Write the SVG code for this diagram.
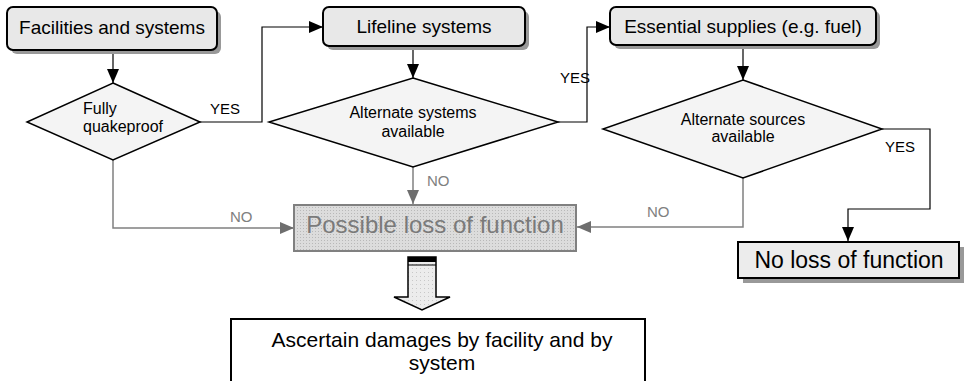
<svg xmlns="http://www.w3.org/2000/svg" width="964" height="381" viewBox="0 0 964 381">
<style>
text{font-family:"Liberation Sans",Arial,sans-serif;fill:#000}
.title{font-size:19px;text-anchor:middle}
.dt{font-size:16px;text-anchor:middle}
.lbl{font-size:15px}
.gl{fill:#808080}
.box{fill:#e8e8e8;stroke:#000;stroke-width:2}
.shadow{fill:#999}
.dia{fill:#f4f4f4;stroke:#000;stroke-width:1.5}
.ln{fill:none;stroke:#000;stroke-width:1.2}
.gln{fill:none;stroke:#808080;stroke-width:1.5}
</style>
<defs>
<marker id="ah" viewBox="0 0 14 12" refX="14" refY="6" markerWidth="14" markerHeight="12" markerUnits="userSpaceOnUse" orient="auto">
<path d="M0,0 L14,6 L0,12 Z" fill="#000"/>
</marker>
<marker id="gah" viewBox="0 0 14 12" refX="14" refY="6" markerWidth="14" markerHeight="12" markerUnits="userSpaceOnUse" orient="auto">
<path d="M0,0 L14,6 L0,12 Z" fill="#6e6e6e"/>
</marker>
<pattern id="dots" width="3" height="3" patternUnits="userSpaceOnUse">
<rect width="3" height="3" fill="#dcdcdc"/>
<rect width="1" height="1" fill="#b8b8b8"/>
</pattern>
<pattern id="dots2" width="4" height="4" patternUnits="userSpaceOnUse">
<rect width="4" height="4" fill="#ececec"/>
<rect width="1" height="1" fill="#c8c8c8"/>
</pattern>
</defs>

<g id="connectors">
<path class="ln" d="M113,50 V83" marker-end="url(#ah)"/>
<path class="ln" d="M200,122 H262 V27 H323" marker-end="url(#ah)"/>
<path class="ln" d="M413,46 V78" marker-end="url(#ah)"/>
<path class="ln" d="M558,122 H587 V27 H610" marker-end="url(#ah)"/>
<path class="ln" d="M743,46 V80" marker-end="url(#ah)"/>
<path class="ln" d="M882,129 H930 V209 H848 V241" marker-end="url(#ah)"/>
<path class="gln" d="M113,160 V228 H294" marker-end="url(#gah)"/>
<path class="gln" d="M413,167 V204" marker-end="url(#gah)"/>
<path class="gln" d="M743,178 V227 H577" marker-end="url(#gah)"/>
<text class="lbl" x="210" y="114">YES</text>
<text class="lbl" x="560" y="83">YES</text>
<text class="lbl" x="885" y="152">YES</text>
<text class="lbl gl" x="230" y="222">NO</text>
<text class="lbl gl" x="427" y="186">NO</text>
<text class="lbl gl" x="647" y="217">NO</text>
</g>

<g id="facilities">
<rect class="shadow" x="11" y="11" width="210" height="43" rx="6"/>
<rect class="box" x="7" y="7" width="210" height="43" rx="6"/>
<text class="title" x="112" y="34">Facilities and systems</text>
</g>

<g id="lifeline">
<rect class="shadow" x="327" y="11" width="202" height="39" rx="6"/>
<rect class="box" x="323" y="7" width="202" height="39" rx="6"/>
<text class="title" x="424" y="33">Lifeline systems</text>
</g>

<g id="essential">
<rect class="shadow" x="614" y="11" width="266" height="38" rx="6"/>
<rect class="box" x="610" y="7" width="266" height="38" rx="6"/>
<text class="title" x="743" y="33">Essential supplies (e.g. fuel)</text>
</g>

<g id="quakeproof">
<polygon class="dia" points="113,83 200,122 113,160 27,122"/>
<text class="dt" x="83" y="114" style="text-anchor:start">Fully</text>
<text class="dt" x="83" y="132" style="text-anchor:start">quakeproof</text>
</g>

<g id="altsystems">
<polygon class="dia" points="413,78 558,122 413,167 269,122"/>
<text class="dt" x="413" y="118">Alternate systems</text>
<text class="dt" x="413" y="137">available</text>
</g>

<g id="altsources">
<polygon class="dia" points="743,80 882,129 743,178 603,129"/>
<text class="dt" x="743" y="125">Alternate sources</text>
<text class="dt" x="743" y="142">available</text>
</g>

<g id="possible">
<rect x="294" y="205" width="282" height="46" fill="url(#dots)" stroke="#808080" stroke-width="2"/>
<text x="435" y="233" style="font-size:24px;text-anchor:middle;fill:#7a7a7a">Possible loss of function</text>
</g>

<g id="noloss">
<rect class="shadow" x="743" y="247" width="221" height="36"/>
<rect x="738" y="242" width="221" height="36" fill="#ececec" stroke="#000" stroke-width="2"/>
<text x="849" y="268" style="font-size:23px;text-anchor:middle">No loss of function</text>
</g>

<g id="blockarrow">
<path d="M408,257 H436 V297 H450 L422,310 L394,297 H408 Z" fill="url(#dots2)" stroke="#000" stroke-width="1.5"/>
<rect x="408" y="257" width="28" height="5" fill="#000"/>
<line x1="408" y1="265" x2="436" y2="265" stroke="#000" stroke-width="1"/>
</g>

<g id="ascertain">
<rect x="231" y="319" width="414" height="70" fill="#fff" stroke="#000" stroke-width="2"/>
<text x="442" y="347" style="font-size:21px;text-anchor:middle">Ascertain damages by facility and by</text>
<text x="442" y="370" style="font-size:21px;text-anchor:middle">system</text>
</g>
</svg>
